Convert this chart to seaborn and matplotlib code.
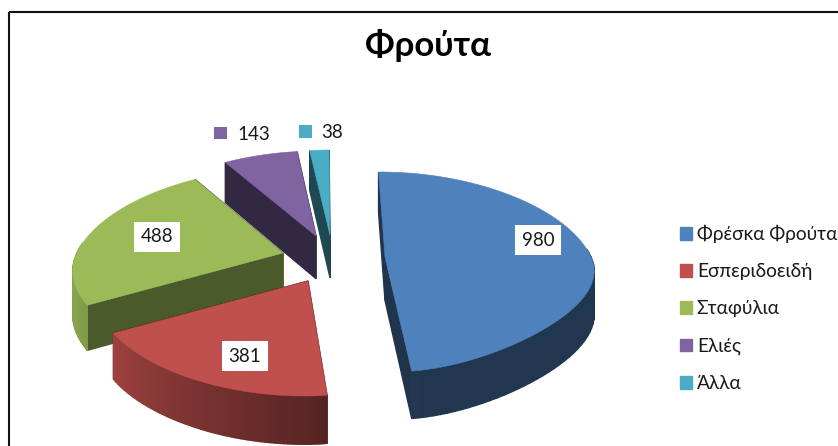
import numpy as np
import matplotlib.pyplot as plt
from matplotlib.patches import Patch, Rectangle
import seaborn as sns

# Data
categories = ['Φρέσκα Φρούτα', 'Εσπεριδοειδή', 'Σταφύλια', 'Ελιές', 'Άλλα']
values = [980, 381, 488, 143, 38]
colors = ['#4F81BD', '#C0504D', '#9BBB59', '#8064A2', '#4BACC6']

# Layout, in pixels of the picture
apex = [(385, 257), (308, 281), (283, 253), (316, 236), (330, 235)]
label_pos = [(538, 240), (245, 356), (157, 237)]
cut_shade = [0.4, 0.4, 0.48, 0.4, 0.42]
rotation = -0.5

sns.set_theme(style='white')
plt.rcParams['font.family'] = ['Lato', 'Open Sans', 'DejaVu Sans']
palette = sns.color_palette(colors)

fig = plt.figure(figsize=(8.38, 4.46), dpi=100)
ax = fig.add_axes([0, 0, 1, 1])
ax.set_xlim(0, 838)
ax.set_ylim(446, 0)
ax.axis('off')


def outer(center, theta):
    # fake perspective: back of the pie is narrower than the front
    c = np.cos(np.radians(theta))
    s = np.sin(np.radians(theta))
    front = np.minimum(c, 0)
    width = 1 - 0.2 * c - 0.3 * front ** 2
    width = width + np.where(s < 0, 0.2 * front ** 2, 0)
    x = center[0] + 206 * width * s - (center[0] - 335) * 0.1 * c
    y = center[1] - (100 - 15 * c) * c
    return x, y


def depth(y):
    return 40 + (y - 160) * 0.035


def side(pts, color):
    xs = [p[0] for p in pts] + [p[0] for p in pts[::-1]]
    ys = [p[1] for p in pts] + [p[1] + depth(p[1]) for p in pts[::-1]]
    ax.fill(xs, ys, color=color, lw=1)


def shade(color, factor):
    return tuple(min(1, v * factor) for v in color)


total = sum(values)
sweep = np.array(values) / total * 360
starts = rotation + np.concatenate([[0], np.cumsum(sweep)[:-1]])

# back slices first, red is painted last because it overlaps the green one
for i in [4, 3, 2, 0, 1]:
    th = np.linspace(starts[i], starts[i] + sweep[i], 80)
    xs, ys = outer(apex[i], th)
    base = palette[i]
    # cut faces
    side([apex[i], (xs[0], ys[0])], shade(base, cut_shade[i]))
    side([apex[i], (xs[-1], ys[-1])], shade(base, cut_shade[i]))
    # rim
    for j in range(len(th) - 1):
        if 85 < th[j] % 360 < 275:
            f = np.clip(0.42 + (th[j] - 170) / 80 * 0.45, 0.42, 0.87)
            side([(xs[j], ys[j]), (xs[j + 1], ys[j + 1])], shade(base, f))
    # top
    ax.fill(np.r_[apex[i][0], xs], np.r_[apex[i][1], ys], color=base, lw=0.4)

# Frame
ax.add_patch(Rectangle((9, 12), 900, 500, fill=False, ec='#111111', lw=1.5))

ax.text(428, 45, 'Φρούτα', fontsize=25, fontweight='bold', color='black',
        ha='center', va='center')

# Value labels with white box
for (x, y), v in zip(label_pos, values):
    ax.text(x, y, str(v), fontsize=13.5, color='#1a1a1a', ha='center', va='center',
            bbox=dict(fc='white', ec='none', pad=5))

# Small slices have their value next to a key
ax.scatter([220.5, 305.5], [133, 131.5], marker='s', s=85, color=[palette[3], palette[4]], lw=0)
ax.text(237, 134, str(values[3]), fontsize=13.5, color='#1a1a1a', va='center')
ax.text(321, 132, str(values[4]), fontsize=13.5, color='#1a1a1a', va='center')

handles = [Patch(color=c, label=n) for c, n in zip(palette, categories)]
leg = ax.legend(handles=handles, loc='upper left', bbox_to_anchor=(680 / 838, 1 - 225 / 446),
                frameon=False, fontsize=13.8, handlelength=0.63, handleheight=0.63,
                handletextpad=0.25, labelspacing=1.05, borderpad=0, borderaxespad=0,
                labelcolor='#1a1a1a')

plt.savefig('out.png', dpi=100)
